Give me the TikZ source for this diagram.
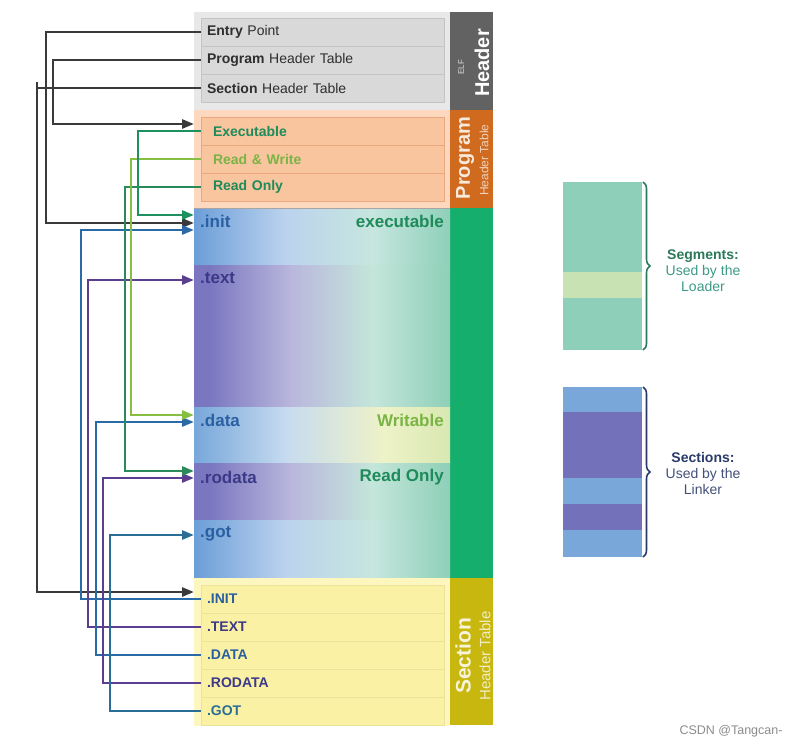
\documentclass[tikz,border=0pt]{standalone}
\usepackage{fontspec}
\setmainfont{Liberation Sans}
\usetikzlibrary{arrows.meta,decorations.pathreplacing}
\definecolor{elfbg}{HTML}{E8E8E8}
\definecolor{elfrow}{HTML}{D9D9D9}
\definecolor{elfline}{HTML}{C4C4C4}
\definecolor{elftab}{HTML}{626262}
\definecolor{progbgc}{HTML}{FDD8BE}
\definecolor{progrow}{HTML}{F9C59E}
\definecolor{progline}{HTML}{EBA77E}
\definecolor{progtabc}{HTML}{CF6A1E}
\definecolor{greentab}{HTML}{16AE6C}
\definecolor{secbgc}{HTML}{FDF6BE}
\definecolor{secrow}{HTML}{FBF1A4}
\definecolor{secline}{HTML}{EDE29A}
\definecolor{sectabc}{HTML}{C8B70E}
\definecolor{txtdark}{HTML}{2E2E2E}
\definecolor{cblk}{HTML}{3A3A3A}
\definecolor{cexec}{HTML}{1F9060}
\definecolor{crw}{HTML}{86BE44}
\definecolor{cro}{HTML}{2B8A5A}
\definecolor{cblue}{HTML}{2A6AA6}
\definecolor{cpurp}{HTML}{5B3E90}
\definecolor{cgot}{HTML}{2A6E98}
\definecolor{tblue}{HTML}{2A60A2}
\definecolor{tpurp}{HTML}{3C3A88}
\definecolor{tgreen}{HTML}{1F8A5A}
\definecolor{tlgreen}{HTML}{7AB444}
\definecolor{segA}{HTML}{8DCFB8}
\definecolor{segB}{HTML}{C8E2B4}
\definecolor{secL}{HTML}{7AA7DA}
\definecolor{secP}{HTML}{7271B9}
\definecolor{segdark}{HTML}{2A7A5A}
\definecolor{segtext}{HTML}{3D9A88}
\definecolor{secdark}{HTML}{2A3A6A}
\definecolor{sectext}{HTML}{44507A}
% gradient colours
\definecolor{bA}{HTML}{6C9ED8}
\definecolor{bB}{HTML}{BCD3EE}
\definecolor{bC}{HTML}{C6E6DE}
\definecolor{bD}{HTML}{8ED0B9}
\definecolor{pA}{HTML}{7A77C0}
\definecolor{pB}{HTML}{B9B7DC}
\definecolor{pC}{HTML}{C4E6DA}
\definecolor{pD}{HTML}{8ECFB8}
\definecolor{dA}{HTML}{78A7DA}
\definecolor{dB}{HTML}{C6DBF0}
\definecolor{dC}{HTML}{EEF2C8}
\definecolor{dD}{HTML}{D8E8B2}
\pgfdeclarehorizontalshading{blueshade}{100bp}{color(0bp)=(bA); color(25bp)=(bA); color(43bp)=(bB); color(60bp)=(bC); color(75bp)=(bD); color(100bp)=(bD)}
\pgfdeclarehorizontalshading{purpshade}{100bp}{color(0bp)=(pA); color(25bp)=(pA); color(28bp)=(pA); color(44bp)=(pB); color(60bp)=(pC); color(75bp)=(pD); color(100bp)=(pD)}
\pgfdeclarehorizontalshading{datashade}{100bp}{color(0bp)=(dA); color(25bp)=(dA); color(43bp)=(dB); color(62bp)=(dC); color(75bp)=(dD); color(100bp)=(dD)}
\begin{document}
\begin{tikzpicture}[x=1pt,y=-1pt,
  bg/.style={inner sep=0pt, outer sep=0pt, anchor=north west},
  rowbase/.style={bg, minimum height=28pt, inner ysep=0pt, align=left, line width=0.8pt,
    font=\fontsize{14}{16}\selectfont},
  rowE/.style={rowbase, fill=elfrow, draw=elfline, text width=231pt, inner xsep=6pt, text=txtdark},
  rowP/.style={rowbase, fill=progrow, draw=progline, text width=219pt, inner xsep=12pt, font=\bfseries\fontsize{14}{16}\selectfont},
  rowS/.style={rowbase, fill=secrow, draw=secline, text width=231pt, inner xsep=6pt, font=\bfseries\fontsize{14}{16}\selectfont},
  blk/.style={bg, minimum width=256pt},
  tab/.style={bg, minimum width=43pt},
  lab/.style={inner sep=0pt, font=\bfseries\fontsize{17}{19}\selectfont},
  conn/.style={line width=2.6pt, -{Triangle[length=12pt,width=9pt]}},
  brc/.style={decorate, decoration={brace, amplitude=7pt}, line width=1.6pt},
  side/.style={align=center, font=\fontsize{14}{16}\selectfont}]
\useasboundingbox (0,0) rectangle (804,745);
\fill[white] (0,0) rectangle (804,745);

% ELF header
\node[blk, fill=elfbg, minimum height=98pt] (elfbg) at (194,12) {};
\node[tab, fill=elftab, minimum height=98pt] (elftab) at (450,12) {};
\node[rowE] (entry) at (201,18) {\textbf{Entry} Point};
\node[rowE] (pht) at (201,46) {\textbf{Program} Header Table};
\node[rowE] (sht) at (201,74) {\textbf{Section} Header Table};
\node[rotate=90, inner sep=0pt, text=white, font=\bfseries\fontsize{20}{20}\selectfont] (hdrlab) at (482,63) {Header};
\node[rotate=90, inner sep=0pt, text=white!80!elftab, font=\fontsize{8}{8}\selectfont] (elflab) at (461,67) {ELF};

% Program header table
\node[blk, fill=progbgc, minimum height=98pt] (progbg) at (194,110) {};
\node[tab, fill=progtabc, minimum height=98pt] (progtab) at (450,110) {};
\node[rowP, text=tgreen] (execr) at (201,117) {Executable};
\node[rowP, text=tlgreen] (rwr) at (201,145) {Read \& Write};
\node[rowP, text=tgreen] (ror) at (201,173) {Read Only};
\node[rotate=90, inner sep=0pt, text=white!85!progtabc, font=\bfseries\fontsize{20}{20}\selectfont] (proglab) at (465,158) {Program};
\node[rotate=90, inner sep=0pt, text=white!70!progtabc, font=\fontsize{12}{12}\selectfont] (proghlab) at (484,160) {Header Table};

% Sections / segments
\node[tab, fill=greentab, minimum height=370pt] (gtab) at (450,208) {};
\node[blk, shading=blueshade, minimum height=57pt] (initb) at (194,208) {};
\node[blk, shading=purpshade, minimum height=142pt] (textb) at (194,265) {};
\node[blk, shading=datashade, minimum height=56pt] (datab) at (194,407) {};
\node[blk, shading=purpshade, minimum height=57pt] (rodatab) at (194,463) {};
\node[blk, shading=blueshade, minimum height=58pt] (gotb) at (194,520) {};
\draw[line width=1pt, color=black!35] (progbg.south west) -- (progbg.south east);

\node[lab, anchor=west, text=tblue] (initl) at (200,221) {.init};
\node[lab, anchor=east, text=tgreen] (initr) at (444,221) {executable};
\node[lab, anchor=west, text=tpurp] (textl) at (200,278) {.text};
\node[lab, anchor=west, text=tblue] (datal) at (200,420) {.data};
\node[lab, anchor=east, text=tlgreen] (datar) at (444,420) {Writable};
\node[lab, anchor=west, text=tpurp] (rodatal) at (200,477) {.rodata};
\node[lab, anchor=east, text=tgreen] (rodatar) at (444,477) {Read Only};
\node[lab, anchor=west, text=tblue] (gotl) at (200,534) {.got};

% Section header table
\node[blk, fill=secbgc, minimum height=148pt] (secbg) at (194,578) {};
\node[tab, fill=sectabc, minimum height=147pt] (sectab) at (450,578) {};
\node[rowS, text=tblue] (sinit) at (201,585) {.INIT};
\node[rowS, text=tpurp] (stext) at (201,613) {.TEXT};
\node[rowS, text=tblue] (sdata) at (201,641) {.DATA};
\node[rowS, text=tpurp] (srodata) at (201,669) {.RODATA};
\node[rowS, text=cgot] (sgot) at (201,697) {.GOT};
\node[rotate=90, inner sep=0pt, text=white!85!sectabc, font=\bfseries\fontsize{21}{21}\selectfont] (seclab) at (463,656) {Section};
\node[rotate=90, inner sep=0pt, text=white!75!sectabc, font=\fontsize{15}{15}\selectfont] (sechlab) at (485,656) {Header Table};

% connectors
\draw[line width=2.6pt, cblk] ([xshift=-164pt]sht.west) -- ++(0,-6);
\draw[conn, cblk] (sht.west) -- ++(-164,0) |- ([yshift=-14pt]secbg.north west);
\draw[conn, cblk] (entry.west) -- ++(-155,0) |- ([yshift=-15pt]initb.north west);
\draw[conn, cblk] (pht.west) -- ++(-148,0) |- ([yshift=-14pt]progbg.north west);
\draw[conn, cblue] (sinit.west) -- ++(-120,0) |- ([yshift=-22pt]initb.north west);
\draw[conn, cpurp] (stext.west) -- ++(-113,0) |- ([yshift=-15pt]textb.north west);
\draw[conn, cblue] (sdata.west) -- ++(-105,0) |- ([yshift=-15pt]datab.north west);
\draw[conn, cpurp] (srodata.west) -- ++(-98,0) |- ([yshift=-15pt]rodatab.north west);
\draw[conn, cgot] (sgot.west) -- ++(-91,0) |- ([yshift=-15pt]gotb.north west);
\draw[conn, cro] (ror.west) -- ++(-76,0) |- ([yshift=-8pt]rodatab.north west);
\draw[conn, crw] (rwr.west) -- ++(-70,0) |- ([yshift=-8pt]datab.north west);
\draw[conn, cexec] (execr.west) -- ++(-63,0) |- ([yshift=-7pt]initb.north west);

% right side
\fill[segA] (563,182) rectangle (642,272);
\fill[segB] (563,272) rectangle (642,298);
\fill[segA] (563,298) rectangle (642,350);
\draw[brc, segdark] (643,182) -- (643,350);
\node[side, text=segtext] (segtxt) at (703,271) {\textcolor{segdark}{\textbf{Segments:}}\\Used by the\\Loader};

\fill[secL] (563,387) rectangle (642,412);
\fill[secP] (563,412) rectangle (642,478);
\fill[secL] (563,478) rectangle (642,504);
\fill[secP] (563,504) rectangle (642,530);
\fill[secL] (563,530) rectangle (642,557);
\draw[brc, secdark] (643,387) -- (643,557);
\node[side, text=sectext] (sectxt) at (703,473) {\textcolor{secdark}{\textbf{Sections:}}\\Used by the\\Linker};

\node[inner sep=0pt, text=black!45, font=\fontsize{12.5}{12.5}\selectfont] (wm) at (731,731) {CSDN @Tangcan-};
\end{tikzpicture}
\end{document}
